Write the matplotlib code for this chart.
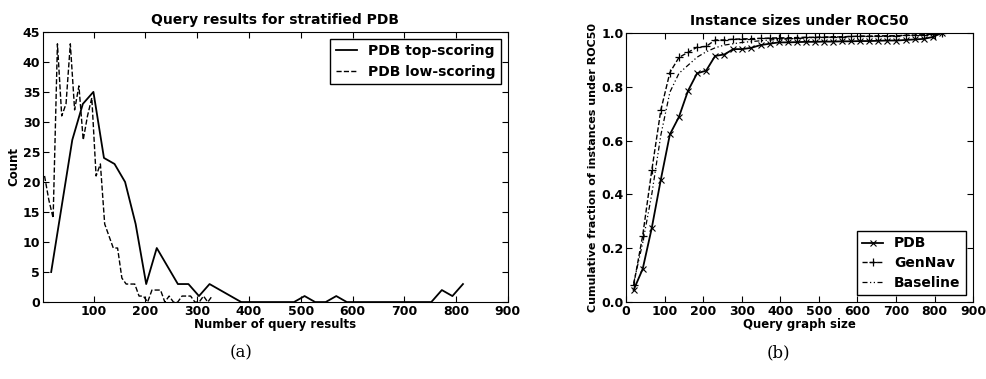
import matplotlib
matplotlib.use('Agg')
import matplotlib.pyplot as plt

plt.rcParams['font.family'] = 'DejaVu Sans'
plt.rcParams['font.weight'] = 'bold'

# (a) histogram of query results
top_x = [17.8, 38.2, 58.6, 79, 99.4, 119.8, 140.2, 160.6, 181, 201.4,
         221.8, 242.2, 262.6, 283, 303.4, 323.8, 344.2, 364.6, 385, 405.4,
         425.8, 446.2, 466.6, 487, 507.4, 527.8, 548.2, 568.6, 589, 609.4,
         629.8, 650.2, 670.6, 691, 711.4, 731.8, 752.2, 772.6, 793, 813.4]
top_y = [5, 16, 27, 33, 35, 24, 23, 20, 13, 3,
         9, 6, 3, 3, 1, 3, 2, 1, 0, 0,
         0, 0, 0, 0, 1, 0, 0, 1, 0, 0,
         0, 0, 0, 0, 0, 0, 0, 2, 1, 3]

low_x = [5, 13.3, 21.6, 29.9, 38.2, 46.5, 54.8, 63.1, 71.4, 79.7,
         88, 96.3, 104.6, 112.9, 121.2, 129.5, 137.8, 146.1, 154.4, 162.7,
         171, 179.3, 187.6, 195.9, 204.2, 212.5, 220.8, 229.1, 237.4, 245.7,
         254, 262.3, 270.6, 278.9, 287.2, 295.5, 303.8, 312.1, 320.4, 328.7]
low_y = [21, 17, 14, 43, 31, 33, 43, 32, 36, 27,
         31, 34, 21, 23, 13, 11, 9, 9, 4, 3,
         3, 3, 1, 1, 0, 2, 2, 2, 0, 1,
         0, 0, 1, 1, 1, 0, 0, 1, 0, 1]

# (b) cumulative fraction of instances under ROC50
size_x = [19.5, 43, 66.5, 90, 113.5, 137, 160.5, 184, 207.5, 231,
          254.5, 278, 301.5, 325, 348.5, 372, 395.5, 419, 442.5, 466,
          489.5, 513, 536.5, 560, 583.5, 607, 630.5, 654, 677.5, 701,
          724.5, 748, 771.5, 795, 818.5]
pdb_y = [0.045, 0.123, 0.275, 0.455, 0.623, 0.688, 0.785, 0.85, 0.86, 0.915,
         0.92, 0.94, 0.94, 0.945, 0.955, 0.96, 0.965, 0.965, 0.966, 0.967,
         0.967, 0.968, 0.968, 0.969, 0.969, 0.97, 0.97, 0.971, 0.972, 0.972,
         0.974, 0.976, 0.978, 0.985, 1.0]
gennav_y = [0.063, 0.247, 0.489, 0.713, 0.853, 0.909, 0.928, 0.947, 0.95, 0.974,
            0.974, 0.977, 0.978, 0.979, 0.98, 0.981, 0.982, 0.982, 0.983, 0.984,
            0.984, 0.985, 0.986, 0.986, 0.987, 0.988, 0.988, 0.989, 0.99, 0.99,
            0.991, 0.992, 0.993, 0.996, 1.0]
base_y = [0.07, 0.22, 0.4, 0.62, 0.78, 0.85, 0.88, 0.91, 0.93, 0.945,
          0.955, 0.96, 0.965, 0.968, 0.971, 0.974, 0.976, 0.978, 0.98, 0.981,
          0.983, 0.984, 0.985, 0.986, 0.987, 0.988, 0.988, 0.989, 0.99, 0.99,
          0.991, 0.992, 0.993, 0.996, 1.0]

fig = plt.figure(figsize=(9.86, 3.79), dpi=100)
ax1 = fig.add_axes([0.0436, 0.203, 0.4714, 0.713])
ax2 = fig.add_axes([0.635, 0.203, 0.352, 0.710])

ax1.plot(top_x, top_y, color='black', linestyle='-', linewidth=1.3, label='PDB top-scoring')
ax1.plot(low_x, low_y, color='black', linestyle='--', linewidth=1.0, label='PDB low-scoring')
ax1.set_xlim(2, 900)
ax1.set_ylim(0, 45)
ax1.set_xticks([100, 200, 300, 400, 500, 600, 700, 800, 900])
ax1.set_yticks(range(0, 46, 5))
ax1.set_title('Query results for stratified PDB', fontsize=10, fontweight='bold')
ax1.set_xlabel('Number of query results', fontsize=8.5, fontweight='bold', labelpad=0)
ax1.set_ylabel('Count', fontsize=8.5, fontweight='bold', labelpad=2)
ax1.legend(loc='upper right', fontsize=10, fancybox=False, handlelength=1.5,
           labelspacing=0.45, edgecolor='black', framealpha=1)

ax2.plot(size_x, pdb_y, color='black', linestyle='-', marker='x', markersize=5,
         markeredgewidth=0.8, linewidth=1.3, label='PDB')
ax2.plot(size_x, gennav_y, color='black', linestyle='--', marker='+', markersize=6,
         markeredgewidth=0.9, linewidth=1.0, label='GenNav')
ax2.plot(size_x, base_y, color='black', linestyle=(0, (4, 2, 1, 2, 1, 2)),
         linewidth=0.9, label='Baseline')
ax2.set_xlim(0, 900)
ax2.set_ylim(0, 1.0)
ax2.set_xticks(range(0, 901, 100))
ax2.set_yticks([0.0, 0.2, 0.4, 0.6, 0.8, 1.0])
ax2.set_title('Instance sizes under ROC50', fontsize=10, fontweight='bold')
ax2.set_xlabel('Query graph size', fontsize=8.5, fontweight='bold', labelpad=0)
ax2.set_ylabel('Cumulative fraction of instances under ROC50', fontsize=8,
               fontweight='bold', labelpad=2)
ax2.legend(loc='lower right', fontsize=10, fancybox=False, handlelength=1.5,
           labelspacing=0.4, edgecolor='black', framealpha=1)

for ax in (ax1, ax2):
    ax.tick_params(direction='in', length=4, labelsize=9, pad=2, top=True, right=True)
    for lab in ax.get_xticklabels() + ax.get_yticklabels():
        lab.set_fontweight('bold')

fig.text(0.244, 0.07, '(a)', fontsize=12, family='DejaVu Serif', fontweight='normal',
         ha='center', va='center')
fig.text(0.789, 0.07, '(b)', fontsize=12, family='DejaVu Serif', fontweight='normal',
         ha='center', va='center')

fig.savefig('out.png', dpi=100)
